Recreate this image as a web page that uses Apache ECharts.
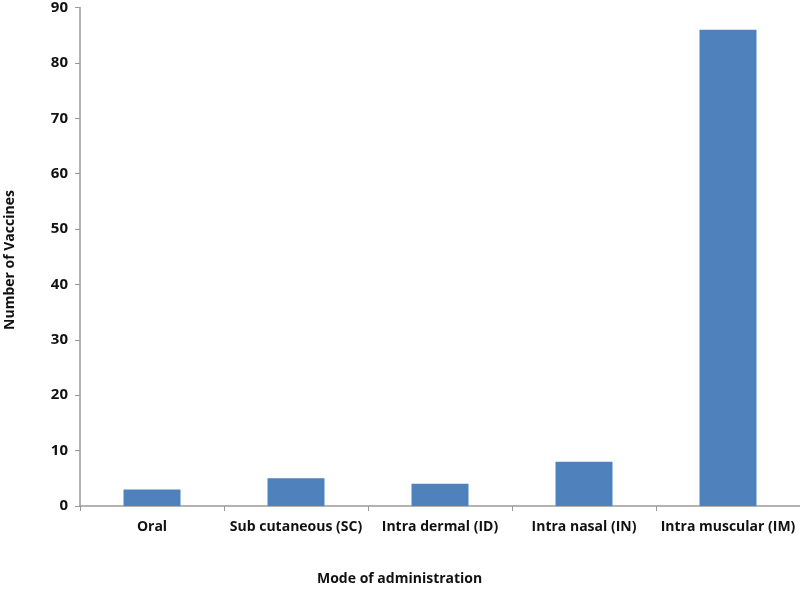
<!DOCTYPE html>
<html><head><meta charset="utf-8">
<script src="https://cdn.jsdelivr.net/npm/echarts@6/dist/echarts.min.js"></script>
<style>html,body{margin:0;padding:0;background:#fff}#c{width:800px;height:589px}</style>
</head><body><div id="c"></div>
<script>
const categories = ["Oral", "Sub cutaneous (SC)", "Intra dermal (ID)", "Intra nasal (IN)", "Intra muscular (IM)"];
const vaccines = [3, 5, 4, 8, 86];
const yTitle = "Number of Vaccines";
const xTitle = "Mode of administration";
const font = "Open Sans";
const chart = echarts.init(document.getElementById('c'));
chart.setOption({
  animation: false,
  backgroundColor: '#fff',
  grid: {left: 80, right: 0, top: 5, bottom: 83},
  xAxis: {
    type: 'category', data: categories,
    axisLine: {lineStyle: {color: '#999', width: 1.5}},
    axisTick: {show: true, alignWithLabel: false, length: 5, lineStyle: {color: '#999'}},
    axisLabel: {interval: 0, color: '#111', fontFamily: font, fontWeight: 'bold', fontSize: 14, margin: 14}
  },
  yAxis: {
    type: 'value', min: 0, max: 90, interval: 10,
    splitLine: {show: false},
    axisLine: {show: true, lineStyle: {color: '#999', width: 1.5}},
    axisTick: {show: true, length: 5, lineStyle: {color: '#999'}},
    axisLabel: {color: '#111', fontFamily: font, fontWeight: 'bold', fontSize: 15, margin: 12}
  },
  series: [{
    type: 'bar', data: vaccines, barWidth: 57,
    itemStyle: {color: '#4F81BD'}
  }],
  graphic: [
    {type: 'text', left: 317, top: 572, style: {text: xTitle, font: 'bold 14px "Open Sans"', fill: '#111'}},
    {type: 'text', x: 10, y: 260, rotation: Math.PI/2, style: {text: yTitle, font: 'bold 14px "Open Sans"', fill: '#111', align: 'center', verticalAlign: 'middle'}}
  ]
});
</script></body></html>
